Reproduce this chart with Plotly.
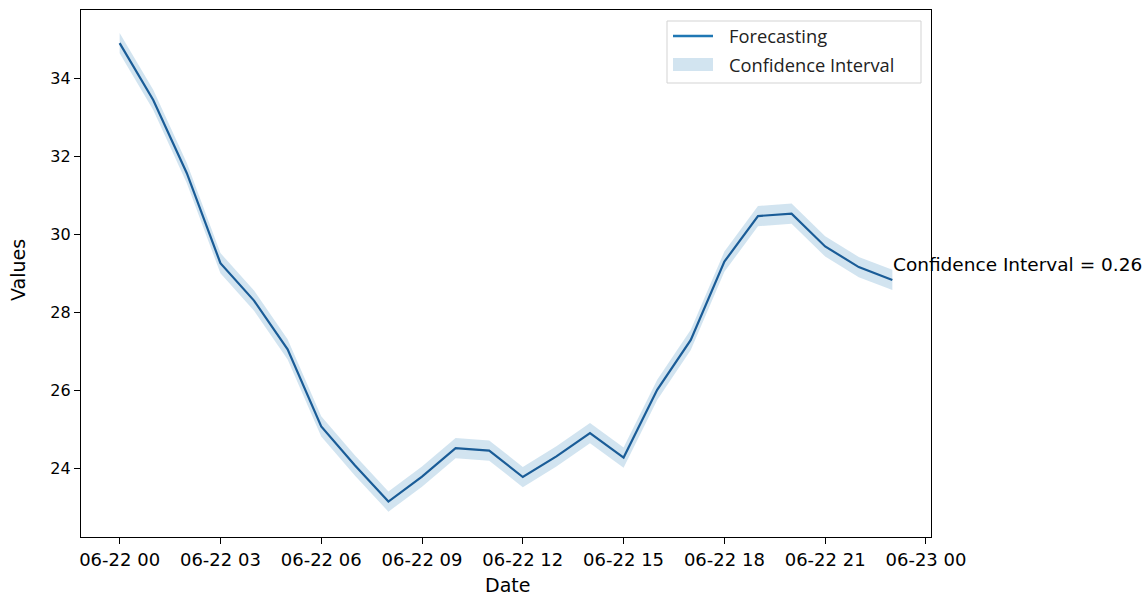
import plotly.graph_objects as go

# Hourly forecast for 22 June
hours = [f"2023-06-22 {h:02d}:00" for h in range(24)]
forecast = [34.91, 33.45, 31.57, 29.26, 28.30, 27.05, 25.07, 24.07,
            23.14, 23.78, 24.51, 24.45, 23.77, 24.30, 24.90, 24.27,
            26.01, 27.29, 29.30, 30.47, 30.53, 29.69, 29.16, 28.83]
ci = 0.26

tick_vals = ["2023-06-22 00:00", "2023-06-22 03:00", "2023-06-22 06:00",
             "2023-06-22 09:00", "2023-06-22 12:00", "2023-06-22 15:00",
             "2023-06-22 18:00", "2023-06-22 21:00", "2023-06-23 00:00"]
tick_text = ["06-22 00", "06-22 03", "06-22 06", "06-22 09", "06-22 12",
             "06-22 15", "06-22 18", "06-22 21", "06-23 00"]
y_ticks = [24, 26, 28, 30, 32, 34]

upper = [v + ci for v in forecast]
lower = [v - ci for v in forecast]

FONT = "DejaVu Sans"
LEGEND_FONT = "Open Sans"
LINE_COLOR = "#1a5c97"
BAND_COLOR = "rgba(31,119,180,0.2)"

fig = go.Figure()

fig.add_trace(go.Scatter(
    x=hours + hours[::-1], y=upper + lower[::-1],
    fill="toself", fillcolor=BAND_COLOR,
    line=dict(width=0), mode="lines", hoverinfo="skip",
    name="Confidence Interval", showlegend=False,
))
fig.add_trace(go.Scatter(
    x=hours, y=forecast, mode="lines",
    line=dict(color=LINE_COLOR, width=2.2),
    name="Forecasting", showlegend=False,
))

fig.add_annotation(
    x=hours[-1], y=forecast[-1], text=f"Confidence Interval = {ci}",
    showarrow=False, xanchor="left", yanchor="middle", xshift=-1, yshift=15,
    font=dict(family=FONT, size=18.5, color="black"),
)

# Layout geometry in pixels, converted to paper coordinates below
W, H = 1147, 597
L, R, T, B = 81, 216, 10, 60
pw, ph = W - L - R, H - T - B


def px(x):
    return (x - L) / pw


def py(y):
    return 1 - (y - T) / ph


# Axis titles
fig.add_annotation(
    xref="paper", yref="paper", x=px(507), y=py(585), text="Date",
    showarrow=False, xanchor="center", yanchor="middle", borderpad=0,
    font=dict(family=FONT, size=19, color="black"),
)
fig.add_annotation(
    xref="paper", yref="paper", x=px(18), y=py(270), text="Values",
    showarrow=False, xanchor="center", yanchor="middle", textangle=-90,
    font=dict(family=FONT, size=19, color="black"),
)

# Legend box
shapes = [
    dict(type="rect", xref="paper", yref="paper",
         x0=px(667), x1=px(921), y0=py(83), y1=py(21),
         line=dict(color="#d3d3d3", width=1), fillcolor="white"),
    dict(type="line", xref="paper", yref="paper",
         x0=px(673), x1=px(713), y0=py(36), y1=py(36),
         line=dict(color="#1f77b4", width=2.4)),
    dict(type="rect", xref="paper", yref="paper",
         x0=px(673), x1=px(713), y0=py(71), y1=py(58),
         line=dict(width=0), fillcolor=BAND_COLOR),
]
for label, yc in [("Forecasting", 36), ("Confidence Interval", 64.5)]:
    fig.add_annotation(
        xref="paper", yref="paper", x=px(727), y=py(yc), text=label,
        showarrow=False, xanchor="left", yanchor="middle",
        font=dict(family=LEGEND_FONT, size=18.3, color="#222222"),
    )

fig.update_layout(
    width=W, height=H,
    margin=dict(l=L, r=R, t=T, b=B, autoexpand=False),
    paper_bgcolor="white", plot_bgcolor="white",
    font=dict(family=FONT, size=16, color="black"),
    showlegend=False,
    shapes=shapes,
)

fig.update_xaxes(
    type="date", automargin=False,
    range=["2023-06-21 22:51", "2023-06-23 00:09"],
    tickvals=tick_vals, ticktext=tick_text,
    ticks="outside", ticklen=6, tickcolor="black", tickwidth=1.2,
    showline=True, linecolor="black", linewidth=1.3, mirror=True,
    showgrid=False, zeroline=False,
    tickfont=dict(family=FONT, size=18),
)
fig.update_yaxes(
    automargin=False,
    range=[22.23, 35.76],
    tickvals=y_ticks,
    ticks="outside", ticklen=6, tickcolor="black", tickwidth=1.2,
    showline=True, linecolor="black", linewidth=1.3, mirror=True,
    showgrid=False, zeroline=False,
    tickfont=dict(family=FONT, size=16),
)

fig.write_html("out.html")
